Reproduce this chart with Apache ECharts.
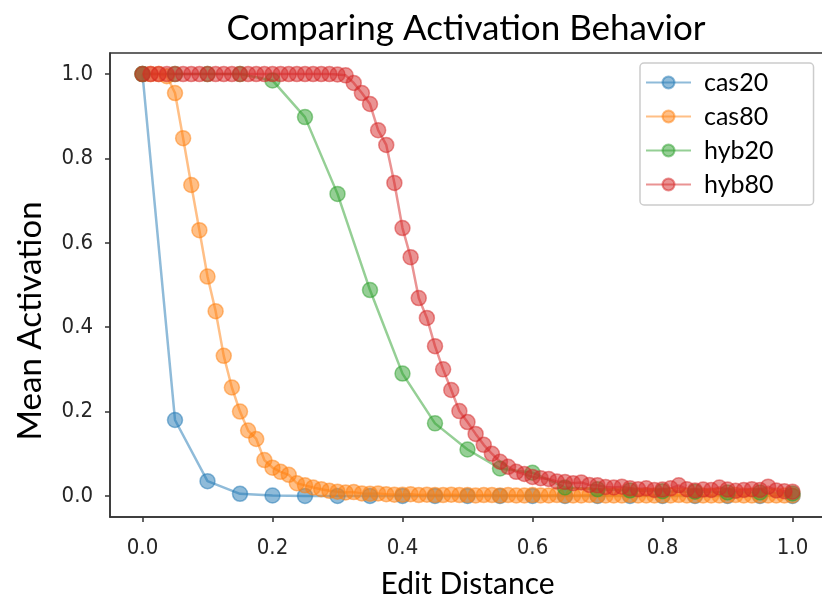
<!DOCTYPE html>
<html>
<head>
<meta charset="utf-8">
<script src="https://cdn.jsdelivr.net/npm/echarts@6/dist/echarts.min.js"></script>
<style>
html,body{margin:0;padding:0;background:#fff;}
#chart{width:822px;height:597px;}
</style>
</head>
<body>
<div id="chart"></div>
<script>
// ---- data ----
const seriesNames = ['cas20', 'cas80', 'hyb20', 'hyb80'];
const xTicks = [0.0, 0.2, 0.4, 0.6, 0.8, 1.0];
const yTicks = [0.0, 0.2, 0.4, 0.6, 0.8, 1.0];

const x20 = [0, 0.05, 0.1, 0.15, 0.2, 0.25, 0.3, 0.35, 0.4, 0.45, 0.5,
  0.55, 0.6, 0.65, 0.7, 0.75, 0.8, 0.85, 0.9, 0.95, 1.0];
const x80 = [0, 0.0125, 0.025, 0.0375, 0.05, 0.0625, 0.075, 0.0875, 0.1, 0.1125,
  0.125, 0.1375, 0.15, 0.1625, 0.175, 0.1875, 0.2, 0.2125, 0.225, 0.2375,
  0.25, 0.2625, 0.275, 0.2875, 0.3, 0.3125, 0.325, 0.3375, 0.35, 0.3625,
  0.375, 0.3875, 0.4, 0.4125, 0.425, 0.4375, 0.45, 0.4625, 0.475, 0.4875,
  0.5, 0.5125, 0.525, 0.5375, 0.55, 0.5625, 0.575, 0.5875, 0.6, 0.6125,
  0.625, 0.6375, 0.65, 0.6625, 0.675, 0.6875, 0.7, 0.7125, 0.725, 0.7375,
  0.75, 0.7625, 0.775, 0.7875, 0.8, 0.8125, 0.825, 0.8375, 0.85, 0.8625,
  0.875, 0.8875, 0.9, 0.9125, 0.925, 0.9375, 0.95, 0.9625, 0.975, 0.9875, 1.0];

const cas20 = [1.0, 0.18, 0.035, 0.005, 0.001, 0.0, 0.0, 0.0, 0.0, 0.0, 0.0,
  0.0, 0.0, 0.0, 0.0, 0.0, 0.0, 0.0, 0.0, 0.0, 0.0];
const cas80 = [1.0, 1.0, 1.0, 0.995, 0.955, 0.848, 0.737, 0.63, 0.52, 0.438,
  0.332, 0.257, 0.20, 0.155, 0.135, 0.085, 0.067, 0.057, 0.05, 0.03,
  0.025, 0.02, 0.016, 0.012, 0.01, 0.008, 0.009, 0.006, 0.005, 0.006,
  0.004, 0.003, 0.003, 0.004, 0.002, 0.003, 0.002, 0.002, 0.003, 0.002,
  0.002, 0.001, 0.002, 0.002, 0.001, 0.002, 0.001, 0.001, 0.002, 0.001,
  0.001, 0.002, 0.001, 0.001, 0.001, 0.002, 0.001, 0.001, 0.001, 0.001,
  0.002, 0.001, 0.001, 0.001, 0.001, 0.001, 0.002, 0.001, 0.001, 0.001,
  0.001, 0.001, 0.001, 0.002, 0.001, 0.001, 0.001, 0.001, 0.001, 0.001, 0.001];
const hyb20 = [1.0, 1.0, 1.0, 1.0, 0.985, 0.898, 0.716, 0.488, 0.29, 0.172, 0.11,
  0.065, 0.055, 0.02, 0.016, 0.013, 0.011, 0.01, 0.008, 0.008, 0.006];
const hyb80 = [1.0, 1.0, 1.0, 1.0, 1.0, 1.0, 1.0, 1.0, 1.0, 1.0,
  1.0, 1.0, 1.0, 1.0, 1.0, 1.0, 1.0, 1.0, 1.0, 1.0,
  1.0, 1.0, 1.0, 1.0, 0.999, 0.997, 0.979, 0.955, 0.929, 0.867,
  0.832, 0.742, 0.635, 0.566, 0.469, 0.422, 0.355, 0.30, 0.251, 0.201,
  0.175, 0.147, 0.121, 0.10, 0.081, 0.069, 0.057, 0.052, 0.045, 0.042,
  0.04, 0.034, 0.033, 0.03, 0.032, 0.026, 0.025, 0.021, 0.02, 0.022,
  0.018, 0.016, 0.018, 0.014, 0.015, 0.018, 0.025, 0.016, 0.013, 0.015,
  0.014, 0.02, 0.015, 0.012, 0.014, 0.016, 0.014, 0.022, 0.013, 0.011, 0.01];

const colors = ['#1f77b4', '#ff7f0e', '#2ca02c', '#d62728'];
const seriesX = [x20, x80, x20, x80];
const seriesY = [cas20, cas80, hyb20, hyb80];

// ---- chart ----
const chart = echarts.init(document.getElementById('chart'), null, {renderer: 'canvas'});
const textFont = 'Lato, "Open Sans", sans-serif';
const tickFont = '"DejaVu Sans Condensed", Roboto, sans-serif';

const series = seriesNames.map((name, k) => ({
  name: name,
  type: 'line',
  data: seriesX[k].map((x, i) => [x, seriesY[k][i]]),
  symbol: 'circle',
  symbolSize: 15,
  showSymbol: true,
  animation: false,
  lineStyle: {color: colors[k], width: 2.5, opacity: 0.5},
  itemStyle: {color: colors[k], opacity: 0.5, borderColor: colors[k], borderWidth: 1.5},
  emphasis: {disabled: true}
}));

chart.setOption({
  backgroundColor: '#fff',
  animation: false,
  color: colors,
  title: {
    text: 'Comparing Activation Behavior',
    left: 466,
    top: 11,
    textAlign: 'center',
    padding: 0,
    textStyle: {fontFamily: textFont, fontSize: 35, fontWeight: 'normal', color: '#000'}
  },
  grid: {
    left: 110, right: -3, top: 53, bottom: 80,
    show: true, borderColor: '#333', borderWidth: 1.5, backgroundColor: 'transparent',
    outerBoundsMode: 'none',
    containLabel: false
  },
  legend: {
    data: seriesNames,
    orient: 'vertical',
    left: 640,
    top: 63,
    padding: [7, 40, 8, 5],
    itemGap: 9,
    itemWidth: 45,
    itemHeight: 15,
    backgroundColor: '#fff',
    borderColor: '#cccccc',
    borderWidth: 1.5,
    borderRadius: 4,
    textStyle: {fontFamily: textFont, fontSize: 25, color: '#000', padding: [0, 0, 0, 8]}
  },
  xAxis: {
    type: 'value',
    min: -0.05,
    max: 1.05,
    name: 'Edit Distance',
    nameLocation: 'middle',
    nameGap: 52,
    nameTextStyle: {fontFamily: textFont, fontSize: 30, color: '#000'},
    axisLine: {show: true, onZero: false, lineStyle: {color: '#333', width: 1.5}},
    axisTick: {show: true, customValues: xTicks, length: 5, lineStyle: {color: '#333', width: 1.5}},
    axisLabel: {show: true, customValues: xTicks, margin: 20,
      formatter: v => v.toFixed(1),
      fontFamily: tickFont, fontSize: 22, color: '#262626'},
    splitLine: {show: false}
  },
  yAxis: {
    type: 'value',
    min: -0.05,
    max: 1.05,
    name: 'Mean Activation',
    nameLocation: 'middle',
    nameGap: 63,
    nameTextStyle: {fontFamily: textFont, fontSize: 33, color: '#000', padding: [0, 72, 0, 0]},
    axisLine: {show: true, onZero: false, lineStyle: {color: '#333', width: 1.5}},
    axisTick: {show: true, customValues: yTicks, length: 5, lineStyle: {color: '#333', width: 1.5}},
    axisLabel: {show: true, customValues: yTicks, margin: 17,
      formatter: v => v.toFixed(1),
      fontFamily: tickFont, fontSize: 22, color: '#262626'},
    splitLine: {show: false}
  },
  series: series
});
</script>
</body>
</html>
